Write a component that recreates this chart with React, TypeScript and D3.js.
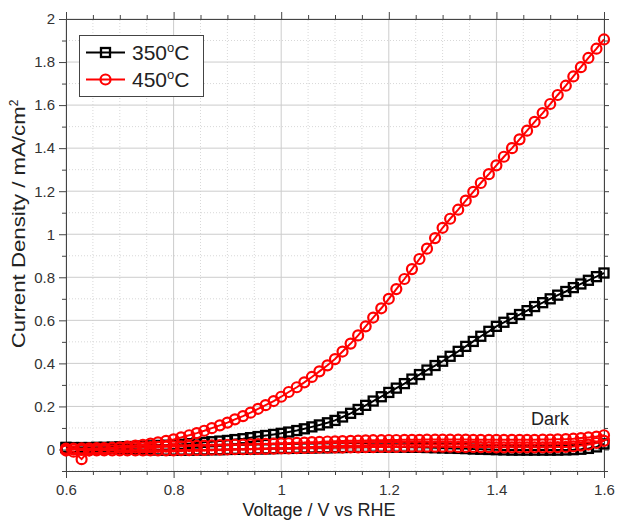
import React, { useEffect, useRef } from "react";
import * as d3 from "d3";

// sweep potential, V vs RHE
const voltage = [
  0.6, 0.614, 0.629, 0.643, 0.657, 0.671, 0.686,
  0.7, 0.714, 0.729, 0.743, 0.757, 0.771, 0.786,
  0.8, 0.814, 0.829, 0.843, 0.857, 0.871, 0.886,
  0.9, 0.914, 0.929, 0.943, 0.957, 0.971, 0.986,
  1.0, 1.014, 1.029, 1.043, 1.057, 1.071, 1.086,
  1.1, 1.114, 1.129, 1.143, 1.157, 1.171, 1.186,
  1.2, 1.214, 1.229, 1.243, 1.257, 1.271, 1.286,
  1.3, 1.314, 1.329, 1.343, 1.357, 1.371, 1.386,
  1.4, 1.414, 1.429, 1.443, 1.457, 1.471, 1.486,
  1.5, 1.514, 1.529, 1.543, 1.557, 1.571, 1.586,
  1.6,
];

const light350 = [
  0.008, 0.008, 0.009, 0.009, 0.01, 0.01, 0.011,
  0.012, 0.013, 0.014, 0.016, 0.017, 0.019, 0.02,
  0.022, 0.024, 0.027, 0.03, 0.033, 0.036, 0.039,
  0.042, 0.046, 0.05, 0.055, 0.06, 0.065, 0.07,
  0.075, 0.081, 0.088, 0.096, 0.105, 0.114, 0.124,
  0.135, 0.151, 0.168, 0.186, 0.205, 0.225, 0.245,
  0.265, 0.285, 0.306, 0.327, 0.348, 0.369, 0.39,
  0.41, 0.433, 0.456, 0.479, 0.502, 0.526, 0.549,
  0.572, 0.591, 0.609, 0.627, 0.645, 0.664, 0.682,
  0.7, 0.717, 0.734, 0.752, 0.769, 0.786, 0.803,
  0.82,
];

const light450 = [
  -0.005, -0.01, -0.045, -0.005, 0.0, 0.003, 0.007,
  0.01, 0.014, 0.018, 0.022, 0.027, 0.033, 0.04,
  0.047, 0.056, 0.066, 0.076, 0.087, 0.099, 0.112,
  0.125, 0.14, 0.155, 0.171, 0.189, 0.206, 0.225,
  0.245, 0.267, 0.289, 0.312, 0.337, 0.363, 0.391,
  0.42, 0.455, 0.492, 0.53, 0.572, 0.613, 0.656,
  0.7, 0.745, 0.792, 0.838, 0.885, 0.933, 0.982,
  1.03, 1.072, 1.114, 1.156, 1.197, 1.238, 1.279,
  1.32, 1.36, 1.4, 1.441, 1.481, 1.522, 1.563,
  1.605, 1.647, 1.69, 1.733, 1.776, 1.819, 1.862,
  1.905,
];

// dark scans
const dark350 = [
  0.01, 0.009, 0.008, 0.007, 0.006, 0.005, 0.004,
  0.003, 0.002, 0.001, 0.0, -0.001, -0.002, -0.003,
  -0.003, -0.003, -0.003, -0.002, -0.002, -0.001, -0.001,
  0.0, 0.001, 0.001, 0.002, 0.003, 0.003, 0.004,
  0.005, 0.005, 0.006, 0.007, 0.007, 0.008, 0.008,
  0.009, 0.009, 0.01, 0.01, 0.01, 0.011, 0.011,
  0.011, 0.011, 0.011, 0.01, 0.01, 0.009, 0.008,
  0.007, 0.006, 0.005, 0.004, 0.002, 0.001, 0.0,
  -0.001, -0.002, -0.003, -0.003, -0.003, -0.003, -0.003,
  -0.003, -0.003, -0.002, -0.001, 0.001, 0.005, 0.012,
  0.026,
];

const dark450 = [
  0.004, 0.004, 0.005, 0.005, 0.006, 0.006, 0.007,
  0.008, 0.008, 0.009, 0.01, 0.011, 0.012, 0.013,
  0.014, 0.015, 0.016, 0.017, 0.018, 0.019, 0.02,
  0.021, 0.022, 0.023, 0.024, 0.025, 0.026, 0.027,
  0.028, 0.029, 0.031, 0.032, 0.034, 0.035, 0.037,
  0.038, 0.039, 0.04, 0.041, 0.042, 0.043, 0.043,
  0.044, 0.044, 0.045, 0.045, 0.045, 0.046, 0.046,
  0.046, 0.046, 0.046, 0.046, 0.045, 0.045, 0.045,
  0.045, 0.045, 0.045, 0.045, 0.045, 0.045, 0.046,
  0.046, 0.047, 0.048, 0.05, 0.053, 0.056, 0.06,
  0.066,
];

const dark450Return = [
  0.002, 0.0, -0.002, -0.003, -0.004, -0.004, -0.004,
  -0.004, -0.004, -0.004, -0.004, -0.004, -0.004, -0.004,
  -0.004, -0.003, -0.003, -0.002, -0.002, -0.001, -0.001,
  0.0, 0.001, 0.001, 0.002, 0.003, 0.003, 0.004,
  0.005, 0.005, 0.006, 0.007, 0.007, 0.008, 0.008,
  0.009, 0.009, 0.01, 0.01, 0.011, 0.011, 0.012,
  0.012, 0.012, 0.013, 0.013, 0.013, 0.013, 0.013,
  0.013, 0.013, 0.012, 0.012, 0.012, 0.011, 0.011,
  0.01, 0.01, 0.01, 0.01, 0.01, 0.01, 0.01,
  0.01, 0.011, 0.012, 0.014, 0.018, 0.023, 0.03,
  0.04,
];

const xMajor = [0.6, 0.8, 1.0, 1.2, 1.4, 1.6];
const yMajor = [0, 0.2, 0.4, 0.6, 0.8, 1.0, 1.2, 1.4, 1.6, 1.8, 2.0];

const series = [
  { color: "#000", shape: "square", values: light350 },
  { color: "#000", shape: "square", values: dark350 },
  { color: "#ff0000", shape: "circle", values: dark450Return },
  { color: "#ff0000", shape: "circle", values: dark450 },
  { color: "#ff0000", shape: "circle", values: light450 },
];

const legendItems = [
  { label: "350", color: "#000", shape: "square" },
  { label: "450", color: "#ff0000", shape: "circle" },
];

const App = () => {
  const ref = useRef<SVGSVGElement>(null);

  useEffect(() => {
    const svg = d3.select(ref.current);
    svg.selectAll("*").remove();

    const width = 618;
    const height = 522;
    const margin = { top: 19, right: 14, bottom: 51, left: 66 };
    const font = "'Liberation Sans', Arial, sans-serif";

    const x = d3.scaleLinear().domain([0.6, 1.6]).range([margin.left, width - margin.right]);
    const y = d3.scaleLinear().domain([-0.1, 2]).range([height - margin.bottom, margin.top]);
    const [x0, x1] = x.range();
    const [y0, y1] = y.range();

    svg.attr("width", width).attr("height", height).style("font-family", font);

    // grid
    const xMinor = d3.range(0.65, 1.6, 0.05).filter((v) => !xMajor.some((m) => Math.abs(m - v) < 1e-6));
    const yMinor = d3.range(-0.1, 2, 0.1).filter((v) => !yMajor.some((m) => Math.abs(m - v) < 1e-6));
    const grid = svg.append("g");
    grid.selectAll(".xm").data(xMinor).enter().append("line")
      .attr("x1", (d) => x(d)).attr("x2", (d) => x(d)).attr("y1", y0).attr("y2", y1)
      .attr("stroke", "#d8d8d8").attr("stroke-dasharray", "1,2");
    grid.selectAll(".ym").data(yMinor).enter().append("line")
      .attr("y1", (d) => y(d)).attr("y2", (d) => y(d)).attr("x1", x0).attr("x2", x1)
      .attr("stroke", "#d8d8d8").attr("stroke-dasharray", "1,2");
    grid.selectAll(".xM").data(xMajor).enter().append("line")
      .attr("x1", (d) => x(d)).attr("x2", (d) => x(d)).attr("y1", y0).attr("y2", y1)
      .attr("stroke", "#cccccc");
    grid.selectAll(".yM").data(yMajor).enter().append("line")
      .attr("y1", (d) => y(d)).attr("y2", (d) => y(d)).attr("x1", x0).attr("x2", x1)
      .attr("stroke", "#cccccc");

    // axes with ticks on every side
    const axisColor = "#444";
    const addAxis = (axis, transform, labels) => {
      const g = svg.append("g").attr("transform", transform);
      g.call(axis.tickSizeOuter(0));
      g.select(".domain").attr("stroke", axisColor);
      g.selectAll(".tick line").attr("stroke", axisColor);
      g.selectAll(".tick text").attr("fill", "#333").style("font-size", "15px").style("font-family", font);
      if (!labels) g.selectAll(".tick text").remove();
      return g;
    };
    const fmt = (d) => d3.format("~g")(d);

    addAxis(d3.axisBottom(x).tickValues(xMinor).tickSize(4), `translate(0,${y0})`, false);
    addAxis(d3.axisBottom(x).tickValues(xMajor).tickSize(7).tickPadding(6).tickFormat(fmt), `translate(0,${y0})`, true);
    addAxis(d3.axisTop(x).tickValues(xMinor).tickSize(4), `translate(0,${y1})`, false);
    addAxis(d3.axisTop(x).tickValues(xMajor).tickSize(7), `translate(0,${y1})`, false);
    addAxis(d3.axisLeft(y).tickValues(yMinor).tickSize(4), `translate(${x0},0)`, false);
    addAxis(d3.axisLeft(y).tickValues(yMajor).tickSize(7).tickPadding(4).tickFormat(fmt), `translate(${x0},0)`, true);
    addAxis(d3.axisRight(y).tickValues(yMinor).tickSize(4), `translate(${x1},0)`, false);
    addAxis(d3.axisRight(y).tickValues(yMajor).tickSize(5), `translate(${x1},0)`, false);

    // curves
    const line = d3.line<number>().x((d, i) => x(voltage[i])).y((d) => y(d));
    const plot = svg.append("g");
    const drawMarker = (g, shape, color, cx, cy) => {
      if (shape === "square") {
        g.append("rect").attr("x", cx - 4.5).attr("y", cy - 4.5).attr("width", 9).attr("height", 9)
          .attr("fill", "none").attr("stroke", color).attr("stroke-width", 2.3);
      } else {
        g.append("circle").attr("cx", cx).attr("cy", cy).attr("r", 5)
          .attr("fill", "none").attr("stroke", color).attr("stroke-width", 2.2);
      }
    };
    series.forEach((s) => {
      plot.append("path").attr("d", line(s.values)).attr("fill", "none")
        .attr("stroke", s.color).attr("stroke-width", 2);
      s.values.forEach((v, i) => drawMarker(plot, s.shape, s.color, x(voltage[i]), y(v)));
    });

    // legend
    const lg = svg.append("g");
    lg.append("rect").attr("x", 79.5).attr("y", 35.5).attr("width", 124).attr("height", 61)
      .attr("fill", "#fff").attr("stroke", "#444");
    legendItems.forEach((d, i) => {
      const cy = 52.5 + i * 27;
      lg.append("line").attr("x1", 86).attr("x2", 125).attr("y1", cy).attr("y2", cy)
        .attr("stroke", d.color).attr("stroke-width", 2);
      drawMarker(lg, d.shape, d.color, 105.5, cy);
      const t = lg.append("text").attr("x", 132).attr("y", cy + 7.5).attr("fill", "#222")
        .style("font-size", "21px");
      t.append("tspan").text(d.label);
      t.append("tspan").attr("dy", -8).style("font-size", "13px").text("o");
      t.append("tspan").attr("dy", 8).text("C");
    });

    svg.append("text").attr("x", 531).attr("y", 425).attr("fill", "#222")
      .style("font-size", "18px").text("Dark");

    // axis titles
    svg.append("text").attr("x", 319).attr("y", 516).attr("text-anchor", "middle")
      .attr("fill", "#222").style("font-size", "18px").text("Voltage / V vs RHE");
    const yt = svg.append("text").attr("transform", "translate(25,224) rotate(-90)")
      .attr("text-anchor", "middle").attr("fill", "#222").style("font-size", "18px");
    yt.append("tspan").attr("textLength", 242).attr("lengthAdjust", "spacingAndGlyphs")
      .text("Current Density / mA/cm");
    yt.append("tspan").attr("dy", -7).style("font-size", "12px").text("2");
  }, []);

  return <svg ref={ref} style={{ position: "absolute", left: 0, top: 0, background: "#fff" }}></svg>;
};

export default App;
